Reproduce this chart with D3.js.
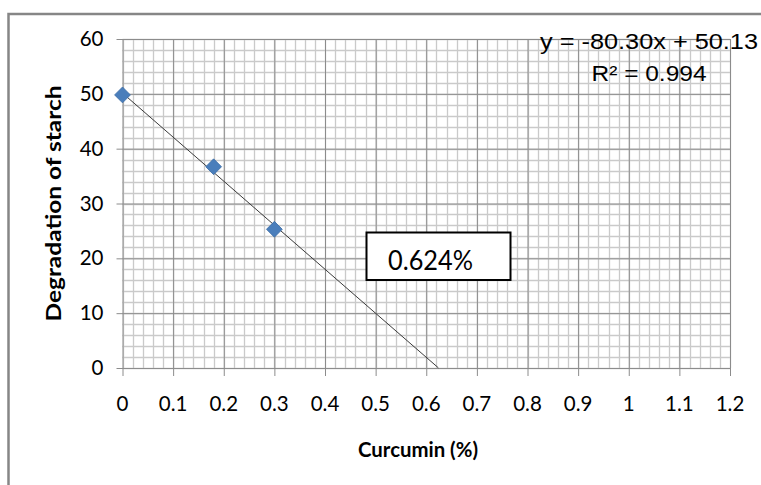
<!DOCTYPE html>
<html>
<head>
<meta charset="utf-8">
<script src="https://cdn.jsdelivr.net/npm/d3@7"></script>
<style>
  body { margin: 0; background: #fff; }
  svg { display: block; }
  .tick-label { font-family: Lato, "Open Sans", sans-serif; font-size: 20.5px; fill: #000; }
  .axis-title { font-family: Lato, "Open Sans", sans-serif; font-weight: bold; font-size: 21px; fill: #000; }
  .eq { font-family: "Liberation Sans", Arial, sans-serif; font-size: 22px; fill: #000; }
</style>
</head>
<body>
<div id="chart"></div>
<script>
// data
var curcumin = [0, 0.18, 0.3];
var degradation = [49.8, 36.7, 25.3];
var trendSlope = -80.30;
var trendIntercept = 50.13;
var trendEndX = 0.624;
var xTicks = [0, 0.1, 0.2, 0.3, 0.4, 0.5, 0.6, 0.7, 0.8, 0.9, 1, 1.1, 1.2];
var yTicks = [0, 10, 20, 30, 40, 50, 60];
var eqLines = ["y = -80.30x + 50.13", "R\u00b2 = 0.994"];
var boxLabel = "0.624%";

var svgWidth = 761;
var svgHeight = 485;

var svg = d3.select("#chart")
  .append("svg")
  .attr("width", svgWidth)
  .attr("height", svgHeight);

// outer chart frame (only left and top visible in the crop)
svg.append("rect")
  .attr("x", 8.5)
  .attr("y", 14)
  .attr("width", 800)
  .attr("height", 520)
  .attr("fill", "none")
  .attr("stroke", "#868686")
  .attr("stroke-width", 2.5);

var xScale = d3.scaleLinear().domain([0, 1.2]).range([122.5, 730]);
var yScale = d3.scaleLinear().domain([0, 60]).range([368, 39]);

var grid = svg.append("g");

// minor gridlines
var xMinor = d3.range(0, 1.2001, 0.02);
var yMinor = d3.range(0, 60.001, 2);
grid.selectAll("line.xm")
  .data(xMinor)
  .enter()
  .append("line")
  .attr("x1", d => Math.round(xScale(d)) + 0.5)
  .attr("x2", d => Math.round(xScale(d)) + 0.5)
  .attr("y1", yScale(60))
  .attr("y2", yScale(0))
  .attr("stroke", "#cacaca")
  .attr("stroke-width", 1.3);
grid.selectAll("line.ym")
  .data(yMinor)
  .enter()
  .append("line")
  .attr("y1", d => Math.round(yScale(d)) + 0.5)
  .attr("y2", d => Math.round(yScale(d)) + 0.5)
  .attr("x1", xScale(0))
  .attr("x2", xScale(1.2))
  .attr("stroke", "#cacaca")
  .attr("stroke-width", 1.3);

// major gridlines with outward ticks
var xAxis = d3.axisBottom(xScale)
  .tickValues(xTicks)
  .tickSize(-(yScale(0) - yScale(60)))
  .tickSizeOuter(0)
  .tickFormat("");
var yAxis = d3.axisLeft(yScale)
  .tickValues(yTicks)
  .tickSize(-(xScale(1.2) - xScale(0)))
  .tickSizeOuter(0)
  .tickFormat("");

var gx = svg.append("g")
  .attr("transform", `translate(0, ${yScale(0)})`)
  .call(xAxis);
gx.select(".domain").remove();
gx.selectAll("line").attr("stroke", "#8c8c8c").attr("y2", d => -(yScale(0) - yScale(60))).attr("y1", 8);

var gy = svg.append("g")
  .attr("transform", `translate(${xScale(0)}, 0)`)
  .call(yAxis);
gy.select(".domain").remove();
gy.selectAll("line").attr("stroke", "#8c8c8c").attr("x1", -6);

// tick labels
svg.append("g").selectAll("text")
  .data(xTicks)
  .enter()
  .append("text")
  .attr("class", "tick-label")
  .attr("x", d => xScale(d))
  .attr("y", 411)
  .attr("text-anchor", "middle")
  .text(d => d3.format("")(d));

svg.append("g").selectAll("text")
  .data(yTicks)
  .enter()
  .append("text")
  .attr("class", "tick-label")
  .attr("x", xScale(0) - 19)
  .attr("y", d => yScale(d) + 7)
  .attr("text-anchor", "end")
  .text(d => d);

// trendline
svg.append("line")
  .attr("x1", xScale(0))
  .attr("y1", yScale(trendIntercept))
  .attr("x2", xScale(trendEndX))
  .attr("y2", yScale(trendSlope * trendEndX + trendIntercept))
  .attr("stroke", "#3a3a3a")
  .attr("stroke-width", 1);

// markers
var diamond = d3.symbol().type(d3.symbolSquare).size(125);
svg.append("g").selectAll("path")
  .data(curcumin)
  .enter()
  .append("path")
  .attr("d", diamond)
  .attr("transform", (d, i) => `translate(${xScale(d)}, ${yScale(degradation[i])}) rotate(45)`)
  .attr("fill", "#4a7ebb")
  .attr("stroke", "#3f6fa8")
  .attr("stroke-width", 0.8);

// label box
svg.append("rect")
  .attr("x", 366.5)
  .attr("y", 232.5)
  .attr("width", 144)
  .attr("height", 47.5)
  .attr("fill", "#fff")
  .attr("stroke", "#000")
  .attr("stroke-width", 2);
svg.append("text")
  .attr("x", 388)
  .attr("y", 269.5)
  .attr("font-family", "Lato, 'Open Sans', sans-serif")
  .attr("font-size", 26)
  .attr("textLength", 85)
  .attr("lengthAdjust", "spacingAndGlyphs")
  .text(boxLabel);

// regression equation
svg.append("g").selectAll("text")
  .data(eqLines)
  .enter()
  .append("text")
  .attr("class", "eq")
  .attr("x", 649)
  .attr("y", (d, i) => 49 + i * 31.5)
  .attr("text-anchor", "middle")
  .attr("textLength", (d, i) => i === 0 ? 218 : 115)
  .attr("lengthAdjust", "spacingAndGlyphs")
  .text(d => d);

// axis titles
svg.append("text")
  .attr("class", "axis-title")
  .attr("x", 418)
  .attr("y", 457)
  .attr("text-anchor", "middle")
  .attr("textLength", 120)
  .attr("lengthAdjust", "spacingAndGlyphs")
  .text("Curcumin (%)");

svg.append("text")
  .attr("class", "axis-title")
  .attr("transform", `translate(61, ${(yScale(0) + yScale(60)) / 2}) rotate(-90)`)
  .attr("text-anchor", "middle")
  .attr("textLength", 236)
  .attr("lengthAdjust", "spacingAndGlyphs")
  .text("Degradation of starch");
</script>
</body>
</html>
